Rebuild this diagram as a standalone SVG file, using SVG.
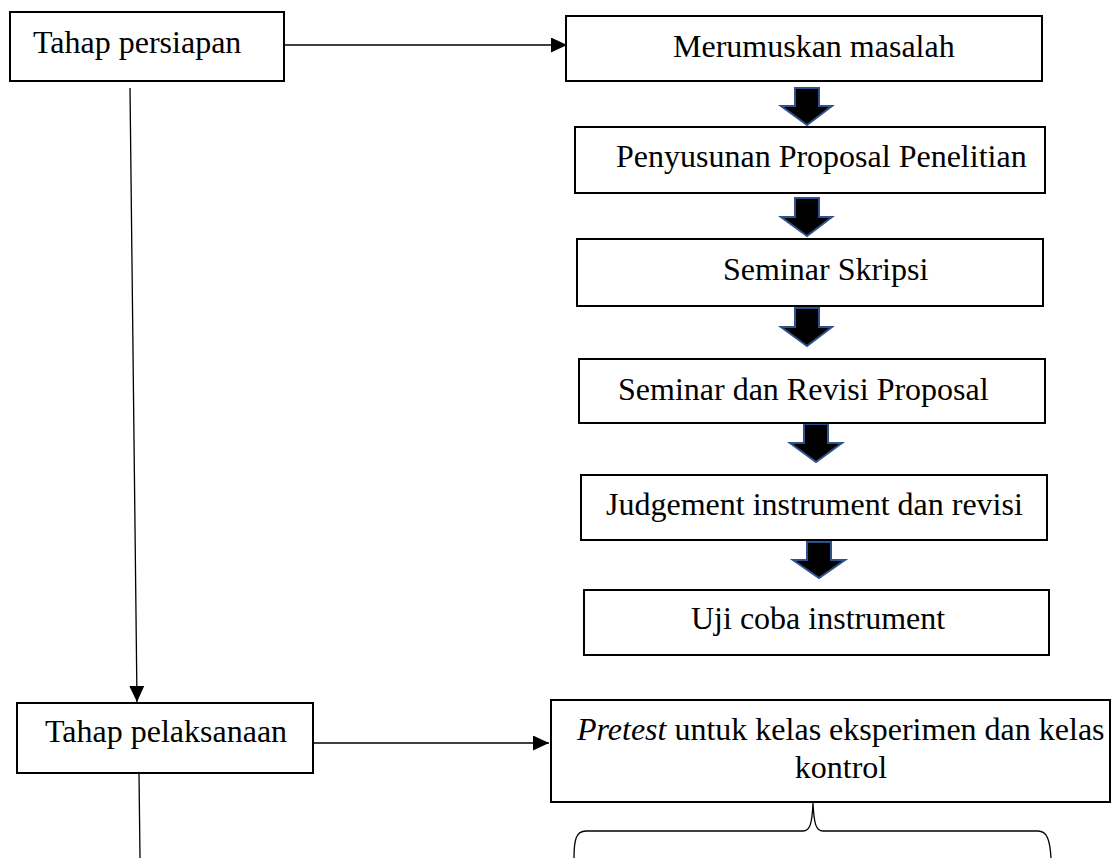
<svg xmlns="http://www.w3.org/2000/svg" width="1112" height="858" viewBox="0 0 1112 858">
<style>
.box{fill:#fff;stroke:#000;stroke-width:2}
.t{font-family:"Liberation Serif","Times New Roman",serif;font-size:32px;fill:#000}
.ln{fill:none;stroke:#000;stroke-width:1.3}
.blk{fill:#000;stroke:#2f528f;stroke-width:2;stroke-linejoin:miter}
</style>
<defs>
<marker id="ah" markerWidth="16" markerHeight="15" refX="16" refY="7.5" orient="auto" markerUnits="userSpaceOnUse">
<path d="M0,0 L16,7.5 L0,15 Z" fill="#000"/>
</marker>
</defs>
<rect width="1112" height="858" fill="#fff"/>

<g id="connectors">
<line class="ln" x1="285" y1="45" x2="567" y2="45" marker-end="url(#ah)"/>
<line class="ln" x1="130" y1="88" x2="137" y2="702" marker-end="url(#ah)"/>
<line class="ln" x1="313" y1="743" x2="549" y2="743" marker-end="url(#ah)"/>
<line class="ln" x1="139" y1="773" x2="140" y2="858"/>
<path class="blk" d="M795,88 L819,88 L819,106 L832,106 L807,125 L781,106 L795,106 Z"/>
<path class="blk" d="M795,198 L819,198 L819,217 L832,217 L807,236 L781,217 L795,217 Z"/>
<path class="blk" d="M795,308 L819,308 L819,327 L832,327 L807,346 L781,327 L795,327 Z"/>
<path class="blk" d="M804,424 L828,424 L828,443 L842,443 L816,462 L790,443 L804,443 Z"/>
<path class="blk" d="M807,542 L831,542 L831,560 L845,560 L819,578 L793,560 L807,560 Z"/>
<path class="ln" d="M574,858 C574,840 576,831 586,831 L803,831 C810,831 812,824 813,803 C814,824 816,831 823,831 L1038,831 C1047,831 1050,840 1051,858"/>
</g>

<g id="n-persiapan">
<rect class="box" x="10" y="12" width="274" height="69"/>
<text class="t" x="33" y="53">Tahap persiapan</text>
</g>
<g id="n-merumuskan">
<rect class="box" x="566" y="16" width="476" height="65"/>
<text class="t" x="673" y="57">Merumuskan masalah</text>
</g>
<g id="n-penyusunan">
<rect class="box" x="575" y="127" width="470" height="66"/>
<text class="t" x="616" y="167">Penyusunan Proposal Penelitian</text>
</g>
<g id="n-seminar-skripsi">
<rect class="box" x="577" y="239" width="466" height="67"/>
<text class="t" x="723" y="280">Seminar Skripsi</text>
</g>
<g id="n-seminar-revisi">
<rect class="box" x="579" y="359" width="466" height="64"/>
<text class="t" x="618" y="400">Seminar dan Revisi Proposal</text>
</g>
<g id="n-judgement">
<rect class="box" x="581" y="475" width="466" height="65"/>
<text class="t" x="606" y="515">Judgement instrument dan revisi</text>
</g>
<g id="n-ujicoba">
<rect class="box" x="584" y="590" width="465" height="65"/>
<text class="t" x="691" y="629">Uji coba instrument</text>
</g>
<g id="n-pelaksanaan">
<rect class="box" x="17" y="703" width="296" height="70"/>
<text class="t" x="45" y="742">Tahap pelaksanaan</text>
</g>
<g id="n-pretest">
<rect class="box" x="551" y="700" width="559" height="102"/>
<text class="t" x="577" y="740"><tspan font-style="italic">Pretest</tspan> untuk kelas eksperimen dan kelas</text>
<text class="t" x="841" y="778" text-anchor="middle">kontrol</text>
</g>
</svg>
